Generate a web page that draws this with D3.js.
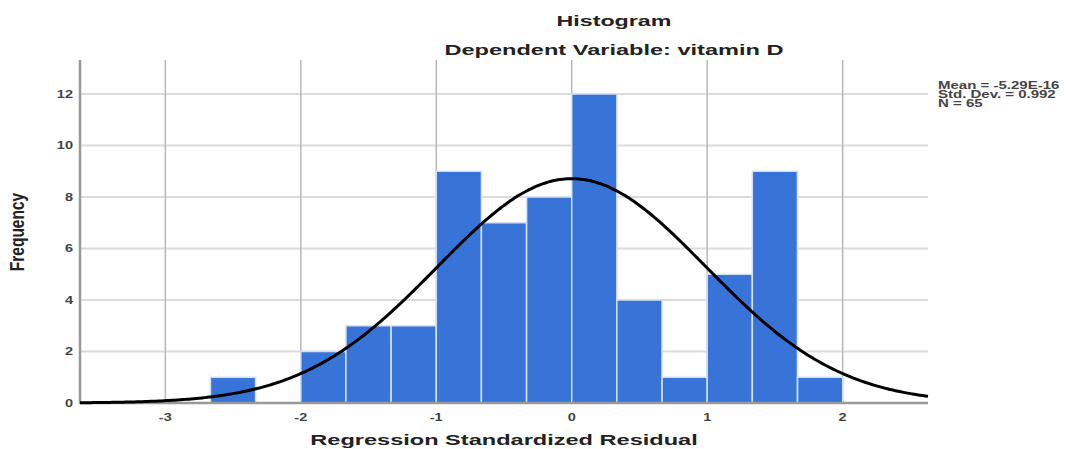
<!DOCTYPE html>
<html lang="en">
<head>
<meta charset="UTF-8">
<title>Histogram - Dependent Variable: vitamin D</title>
<script src="https://d3js.org/d3.v7.min.js"></script>
<style>
  body { margin: 0; background: #fff; }
  svg { display: block; font-family: "Liberation Sans", Arial, sans-serif; }
  .grid-h { stroke: #dcdcdc; stroke-width: 2; }
  .grid-v { stroke: #b8b8b8; stroke-width: 1.5; }
  .axis-line { stroke: #999; stroke-width: 2.5; }
  .bar { fill: #3874d8; stroke: #d4e1f5; stroke-width: 1.5; }
  .curve { fill: none; stroke: #000; stroke-width: 3; }
  .tick { font-size: 10px; font-weight: bold; fill: #444; }
</style>
</head>
<body>
<svg id="chart" width="1070" height="449"></svg>
<script>
// histogram data (lower edge of each bin, count in bin)
const binLow = [-2.667, -2.333, -2, -1.667, -1.333, -1, -0.667, -0.333, 0, 0.333, 0.667, 1, 1.333, 1.667];
const counts = [1, 0, 2, 3, 3, 9, 7, 8, 12, 4, 1, 5, 9, 1];
const binWidth = 0.3333;

const xTicks = [-3, -2, -1, 0, 1, 2];
const yTicks = [0, 2, 4, 6, 8, 10, 12];

const statLines = ["Mean = -5.29E-16", "Std. Dev. = 0.992", "N = 65"];
const mean = -5.29e-16, sd = 0.992, n = 65;

const svg = d3.select("#chart");
const plotL = 80, plotR = 928, plotT = 60, plotB = 403;

const x = d3.scaleLinear().domain([-3.63, 2.63]).range([plotL, plotR]);
const y = d3.scaleLinear().domain([0, 13.32]).range([plotB, plotT]);

// stretch text wider, like the reference image
function stretch(sel, k) {
  sel.each(function() {
    const len = this.getComputedTextLength();
    d3.select(this).attr("textLength", len * k).attr("lengthAdjust", "spacingAndGlyphs");
  });
}

// grid
svg.selectAll(".grid-h").data(yTicks.slice(1)).enter().append("line")
  .attr("class", "grid-h")
  .attr("x1", plotL).attr("x2", plotR)
  .attr("y1", d => y(d)).attr("y2", d => y(d));

svg.selectAll(".grid-v").data(xTicks).enter().append("line")
  .attr("class", "grid-v")
  .attr("x1", d => x(d)).attr("x2", d => x(d))
  .attr("y1", plotT).attr("y2", plotB);

// bars
svg.selectAll(".bar").data(binLow.map((b, i) => ({ b, c: counts[i] })).filter(d => d.c > 0))
  .enter().append("rect")
  .attr("class", "bar")
  .attr("x", d => x(d.b))
  .attr("width", d => x(d.b + binWidth) - x(d.b))
  .attr("y", d => y(d.c))
  .attr("height", d => y(0) - y(d.c));

// axis lines
svg.append("line").attr("class", "axis-line")
  .attr("x1", plotL).attr("x2", plotL).attr("y1", plotT).attr("y2", plotB + 1);
svg.append("line").attr("class", "axis-line")
  .attr("x1", plotL).attr("x2", plotR).attr("y1", plotB).attr("y2", plotB);

// normal curve from mean / sd / N
const xs = d3.range(x.domain()[0], x.domain()[1] + 0.001, 0.02);
const line = d3.line()
  .x(d => x(d))
  .y(d => y(n * binWidth * Math.exp(-0.5 * ((d - mean) / sd) ** 2) / (sd * Math.sqrt(2 * Math.PI))))
  .curve(d3.curveBasis);
svg.append("path").attr("class", "curve").attr("d", line(xs));

// tick labels
svg.selectAll(".ytick").data(yTicks).enter().append("text")
  .attr("class", "tick")
  .attr("x", 73).attr("y", d => y(d) + 4)
  .attr("text-anchor", "end")
  .text(d => d)
  .call(stretch, 1.45);

svg.selectAll(".xtick").data(xTicks).enter().append("text")
  .attr("class", "tick")
  .attr("x", d => x(d)).attr("y", 421)
  .attr("text-anchor", "middle")
  .text(d => d)
  .call(stretch, 1.45);

// titles
svg.append("text")
  .attr("x", 614).attr("y", 26)
  .attr("text-anchor", "middle")
  .style("font-size", "15px").style("font-weight", "bold").style("fill", "#222")
  .text("Histogram").call(stretch, 1.55);

svg.append("text")
  .attr("x", 614).attr("y", 55)
  .attr("text-anchor", "middle")
  .style("font-size", "15px").style("font-weight", "bold").style("fill", "#222")
  .text("Dependent Variable: vitamin D").call(stretch, 1.57);

svg.append("text")
  .attr("x", 504).attr("y", 445)
  .attr("text-anchor", "middle")
  .style("font-size", "15px").style("font-weight", "bold").style("fill", "#222")
  .text("Regression Standardized Residual").call(stretch, 1.57);

svg.append("text")
  .attr("transform", "translate(24,232) scale(1.35,1) rotate(-90)")
  .attr("text-anchor", "middle")
  .style("font-size", "15.5px").style("font-weight", "bold").style("fill", "#222")
  .text("Frequency");

// stats box
svg.selectAll(".stat").data(statLines).enter().append("text")
  .attr("x", 938).attr("y", (d, i) => 89 + i * 9)
  .style("font-size", "10px").style("font-weight", "bold").style("fill", "#444")
  .text(d => d)
  .call(stretch, 1.5);
</script>
</body>
</html>
